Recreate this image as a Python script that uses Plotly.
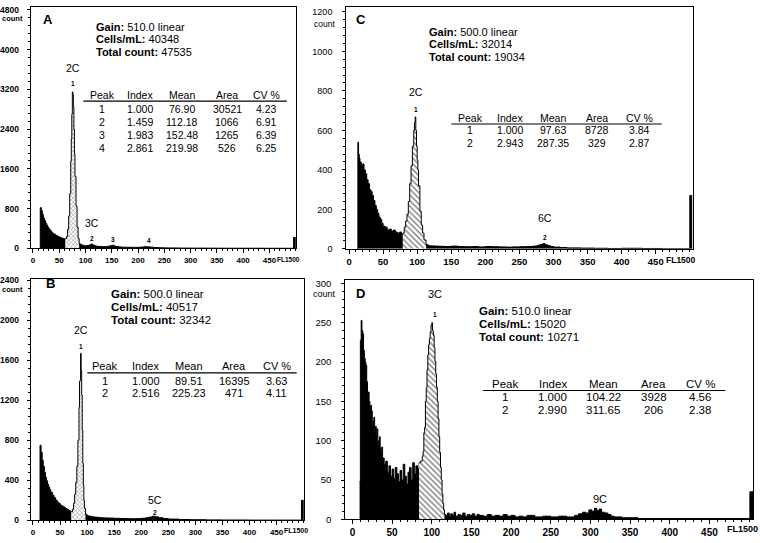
import plotly.graph_objects as go

W, H = 760, 543
ARIAL = "Arial, Liberation Sans, sans-serif"

# ---- histogram data (channel, count) ----
A_ch = [
    13, 14, 16, 18, 20, 22, 24, 26, 28, 30,
    32, 34, 36, 38, 40, 43, 46, 49, 52, 55,
    58, 60, 62, 64, 66, 68, 70, 72, 73, 74,
    75, 76, 77, 78, 79, 80, 82, 84, 86, 88,
    90, 94, 98, 102, 106, 110, 114, 118, 122, 128,
    134, 140, 146, 150, 154, 158, 164, 170, 180, 190,
    200, 206, 212, 218, 224, 230, 240, 250, 260, 280,
    300, 330, 360, 400, 440, 480, 496, 500]
A_count = [
    0, 820, 760, 680, 610, 560, 510, 470, 430, 400,
    370, 345, 320, 300, 285, 262, 245, 228, 215, 205,
    195, 190, 195, 240, 380, 650, 1100, 1750, 2200, 2700,
    3150, 3100, 2850, 2400, 1900, 1450, 850, 430, 200, 100,
    75, 60, 52, 55, 68, 85, 65, 48, 40, 36,
    34, 40, 52, 62, 48, 36, 28, 24, 22, 20,
    22, 28, 34, 30, 24, 16, 12, 10, 8, 6,
    5, 4, 3, 3, 2, 2, 220, 0]
A_gate = (62, 88)

B_ch = [
    12, 13, 15, 17, 19, 21, 23, 25, 27, 29,
    31, 33, 36, 39, 42, 45, 48, 51, 54, 57,
    60, 63, 66, 69, 71, 73, 75, 77, 79, 81,
    83, 85, 86, 87, 88, 89, 90, 91, 92, 93,
    94, 95, 97, 100, 104, 108, 112, 118, 124, 130,
    140, 150, 160, 170, 180, 190, 200, 208, 214, 220,
    226, 232, 240, 250, 270, 290, 320, 350, 400, 450,
    496, 500]
B_count = [
    0, 750, 680, 600, 540, 480, 430, 395, 360, 330,
    305, 280, 250, 225, 200, 180, 165, 150, 140, 130,
    118, 108, 98, 88, 85, 110, 170, 260, 380, 540,
    800, 1130, 1390, 1400, 1670, 1500, 1250, 900, 570, 350,
    200, 120, 60, 45, 40, 36, 32, 29, 26, 24,
    22, 20, 18, 17, 16, 17, 20, 25, 32, 40,
    35, 26, 18, 12, 8, 6, 4, 3, 2, 2,
    200, 0]
B_gate = (71, 97)

C_ch = [
    12, 13, 14, 15, 16, 18, 20, 22, 24, 26,
    28, 30, 32, 34, 36, 38, 40, 42, 44, 46,
    48, 50, 53, 56, 59, 62, 65, 68, 71, 74,
    77, 79, 81, 83, 85, 87, 89, 91, 93, 95,
    96, 97, 98, 99, 100, 101, 102, 104, 106, 108,
    110, 113, 116, 120, 126, 132, 140, 150, 160, 170,
    180, 190, 200, 210, 220, 230, 240, 250, 260, 270,
    276, 280, 284, 288, 292, 296, 300, 310, 320, 340,
    360, 380, 400, 430, 460, 490, 500, 503]
C_count = [
    0, 540, 480, 460, 440, 420, 430, 400, 380, 350,
    330, 300, 290, 270, 245, 220, 200, 180, 160, 150,
    130, 115, 110, 95, 100, 90, 95, 85, 80, 85,
    75, 80, 110, 140, 175, 240, 330, 420, 520, 600,
    640, 668, 600, 520, 450, 400, 320, 190, 120, 80,
    45, 22, 16, 15, 14, 13, 12, 14, 12, 11,
    12, 10, 12, 11, 10, 9, 10, 11, 12, 14,
    18, 22, 26, 20, 16, 12, 9, 7, 5, 4,
    3, 2, 3, 2, 1, 1, 270, 0]
C_gate = (79, 113)

D_ch = [
    9, 10, 11, 12, 13, 14, 15, 16, 17, 18,
    19, 20, 21, 22, 23, 24, 25, 26, 27, 28,
    29, 30, 31, 32, 33, 34, 35, 36, 37, 38,
    40, 42, 44, 46, 48, 50, 52, 54, 56, 58,
    60, 62, 64, 66, 68, 70, 72, 74, 76, 78,
    80, 82, 84, 86, 88, 89, 90, 91, 92, 93,
    94, 95, 96, 97, 98, 99, 100, 101, 102, 103,
    104, 105, 106, 107, 108, 109, 110, 111, 112, 113,
    114, 115, 116, 118, 120, 122, 124, 126, 128, 130,
    133, 136, 139, 142, 145, 148, 151, 154, 157, 160,
    165, 170, 175, 180, 185, 190, 195, 200, 205, 210,
    215, 220, 230, 240, 250, 260, 270, 280, 285, 290,
    294, 298, 302, 305, 308, 311, 314, 318, 322, 326,
    330, 340, 350, 360, 380, 420, 460, 501, 505]
D_count = [
    48, 228, 253, 240, 236, 215, 205, 200, 196, 175,
    160, 162, 150, 140, 145, 138, 120, 125, 130, 112,
    118, 108, 115, 95, 100, 105, 90, 84, 92, 78,
    70, 74, 60, 68, 55, 64, 52, 66, 58, 48,
    62, 50, 70, 55, 45, 60, 66, 50, 72, 58,
    68, 64, 72, 74, 80, 86, 110, 117, 150, 167,
    190, 209, 222, 230, 238, 247, 250, 240, 234, 218,
    201, 185, 168, 150, 128, 105, 85, 66, 50, 32,
    20, 12, 6, 5, 8, 4, 7, 5, 9, 4,
    6, 5, 8, 4, 6, 5, 7, 4, 6, 5,
    4, 6, 4, 5, 4, 6, 4, 5, 3, 4,
    3, 5, 3, 4, 3, 4, 3, 5, 7, 9,
    8, 12, 10, 14, 11, 13, 9, 8, 6, 4,
    3, 2, 2, 1, 1, 1, 1, 35, 0]
D_gate = (84, 116)

# ---- instrument read-out and peak tables ----
TABLE_HEAD = ["Peak", "Index", "Mean", "Area", "CV %"]
A_info = ["510.0", "40348", "47535"]
A_rows = [
    ["1", "1.000", "76.90", "30521", "4.23"],
    ["2", "1.459", "112.18", "1066", "6.91"],
    ["3", "1.983", "152.48", "1265", "6.39"],
    ["4", "2.861", "219.98", "526", "6.25"],
]
B_info = ["500.0", "40517", "32342"]
B_rows = [
    ["1", "1.000", "89.51", "16395", "3.63"],
    ["2", "2.516", "225.23", "471", "4.11"],
]
C_info = ["500.0", "32014", "19034"]
C_rows = [
    ["1", "1.000", "97.63", "8728", "3.84"],
    ["2", "2.943", "287.35", "329", "2.87"],
]
D_info = ["510.0", "15020", "10271"]
D_rows = [
    ["1", "1.000", "104.22", "3928", "4.56"],
    ["2", "2.990", "311.65", "206", "2.38"],
]

X_TICKS = [0, 50, 100, 150, 200, 250, 300, 350, 400, 450]

fig = go.Figure()


def font(size=11, bold=False):
    return dict(family=ARIAL, size=size, color="black",
                weight="bold" if bold else "normal")


def ann(text, x, y, f, xanchor="center"):
    # x, y in picture pixels
    fig.add_annotation(text=text, x=x / W, y=1 - y / H, xref="paper", yref="paper",
                       showarrow=False, xanchor=xanchor, yanchor="middle", font=f,
                       borderpad=0)


def draw_hist(k, ch, counts, gate, shape, size, solidity):
    lo, hi = gate
    xa, ya = "x" + k, "y" + k
    parts = [
        ([c for c in ch if c <= lo], [n for c, n in zip(ch, counts) if c <= lo], None),
        ([c for c in ch if lo <= c <= hi], [n for c, n in zip(ch, counts) if lo <= c <= hi], shape),
        ([c for c in ch if c >= hi], [n for c, n in zip(ch, counts) if c >= hi], None),
    ]
    for xs, ys, pat in parts:
        tr = dict(x=xs, y=ys, mode="lines", line=dict(color="black", width=1, shape="hv"),
                  fill="tozeroy", xaxis=xa, yaxis=ya, showlegend=False, hoverinfo="skip")
        if pat:
            tr["fillcolor"] = "white"
            tr["fillpattern"] = dict(shape=pat, fgcolor="black", bgcolor="white",
                                     size=size, solidity=solidity)
        else:
            tr["fillcolor"] = "black"
        fig.add_trace(go.Scatter(**tr))


def axes(k, xdom, ydom, xr, yr, dy, xfont, yfont, ystand=6):
    common = dict(showline=True, linecolor="black", linewidth=1.2, mirror=True,
                  showgrid=False, zeroline=False, ticks="outside", tickcolor="black",
                  tickwidth=1, fixedrange=True)
    fig.layout["xaxis" + k] = dict(
        common, domain=[xdom[0] / W, xdom[1] / W], range=xr, anchor="y" + k,
        tickmode="array", tickvals=X_TICKS, ticklen=4, tickfont=xfont,
        minor=dict(tickmode="linear", tick0=0, dtick=10, ticks="outside", ticklen=2,
                   tickcolor="black"))
    fig.layout["yaxis" + k] = dict(
        common, domain=[1 - ydom[1] / H, 1 - ydom[0] / H], range=yr, anchor="x" + k,
        tickmode="linear", tick0=0, dtick=dy, ticklen=3, tickfont=yfont,
        ticklabelstandoff=ystand,
        minor=dict(tickmode="linear", tick0=0, dtick=dy / 5, ticks="outside", ticklen=2,
                   tickcolor="black"))


def info(x, y0, step, vals, size):
    ann("<b>Gain:</b> %s linear" % vals[0], x, y0, font(size), "left")
    ann("<b>Cells/mL:</b> %s" % vals[1], x, y0 + step, font(size), "left")
    ann("<b>Total count:</b> %s" % vals[2], x, y0 + 2 * step, font(size), "left")


def table(cols, y_head, y_line, x0, x1, y_row, step, rows, size):
    for cx, h in zip(cols, TABLE_HEAD):
        ann(h, cx, y_head, font(size))
    fig.add_shape(type="line", xref="paper", yref="paper", x0=x0 / W, x1=x1 / W,
                  y0=1 - y_line / H, y1=1 - y_line / H, line=dict(color="black", width=1.2))
    for i, row in enumerate(rows):
        for cx, v in zip(cols, row):
            ann(v, cx, y_row + i * step, font(size))


def peak_text(k, text, x, y, shift, f):
    fig.add_annotation(text=text, x=x, y=y, xref="x" + k, yref="y" + k, yshift=shift,
                       showarrow=False, yanchor="middle", font=f, borderpad=0)


small = font(6.5, True)

# ---- A ----
draw_hist("", A_ch, A_count, A_gate, "x", 3, 0.3)
axes("", (25, 292), (3, 248.5), [-4, 500], [0, 4860], 800, font(8, True), font(8.5, True))
ann("count", 18, 15, font(7.5, True), "right")
ann("FL1500", 297, 260, font(6.5, True), "right")
ann("<b>A</b>", 42, 16, font(13))
info(90, 23, 13, A_info, 11)
table([97, 135, 177, 223, 263], 93, 98.7, 78, 283, 106.7, 13.1, A_rows, 10.5)
peak_text("", "2C", 76.9, max(A_count[:40]), 24, font(10.5))
peak_text("", "1", 76.9, max(A_count[:40]), 8, small)
peak_text("", "3C", 112.18, 0, 25, font(10.5))
peak_text("", "2", 112.18, 0, 10, small)
peak_text("", "3", 152.48, 0, 9, small)
peak_text("", "4", 219.98, 0, 8, small)

# ---- C ----
draw_hist("2", C_ch, C_count, C_gate, "\\", 4, 0.35)
axes("2", (343, 692), (3, 249), [-4, 504], [0, 1225], 200, font(9.5, True), font(9), 8)
ann("count", 333, 20, font(8.5), "right")
ann("FL1500", 696, 260, font(8.5, True), "right")
ann("<b>C</b>", 358, 16, font(13))
info(425, 28, 13, C_info, 11)
table([468, 508, 551, 596, 639], 116, 122, 449, 661, 128.3, 13.4, C_rows, 10.5)
peak_text("2", "2C", 97.63, max(C_count[:60]), 25, font(10.5))
peak_text("2", "1", 97.63, max(C_count[:60]), 7, small)
peak_text("2", "6C", 287.35, 0, 31, font(10.5))
peak_text("2", "2", 287.35, 0, 11, small)

# ---- B ----
draw_hist("3", B_ch, B_count, B_gate, "x", 3, 0.3)
axes("3", (25, 300), (280, 525), [-4, 500], [0, 2410], 400, font(8, True), font(8.5, True))
ann("count", 18, 290, font(7.5, True), "right")
ann("FL1500", 305, 535, font(7, True), "right")
ann("<b>B</b>", 45, 284, font(13))
info(105, 295, 13, B_info, 11.5)
table([100, 141, 184, 230, 273], 368, 375, 82, 293, 383, 13, B_rows, 11)
peak_text("3", "2C", 89.51, max(B_count[:50]), 23, font(10.5))
peak_text("3", "1", 89.51, max(B_count[:50]), 7, small)
peak_text("3", "5C", 225.23, 0, 20, font(10.5))
peak_text("3", "2", 225.23, 0, 8, small)

# ---- D ----
draw_hist("4", D_ch, D_count, D_gate, "\\", 4, 0.35)
axes("4", (342, 753), (281, 524), [-9, 505], [0, 304], 50, font(10, True), font(9.5), 8)
ann("count", 334, 295, font(9), "right")
ann("FL1500", 759, 534, font(9, True), "right")
ann("<b>D</b>", 357, 294, font(13))
info(476, 312, 13.5, D_info, 11.5)
table([503, 551, 602, 653, 700], 386, 393, 481, 725, 400, 13.3, D_rows, 11.5)
peak_text("4", "3C", 104.22, max(D_count[:90]), 26, font(11))
peak_text("4", "1", 104.22, max(D_count[:90]), 6, small)
peak_text("4", "9C", 311.65, 0, 20, font(11))

fig.update_layout(
    width=W,
    height=H,
    margin=dict(l=0, r=0, t=0, b=0),
    paper_bgcolor="white",
    plot_bgcolor="white",
    showlegend=False,
)

fig.write_html("out.html", config={"displayModeBar": False},
               post_script="document.body.style.margin = '0px';")
